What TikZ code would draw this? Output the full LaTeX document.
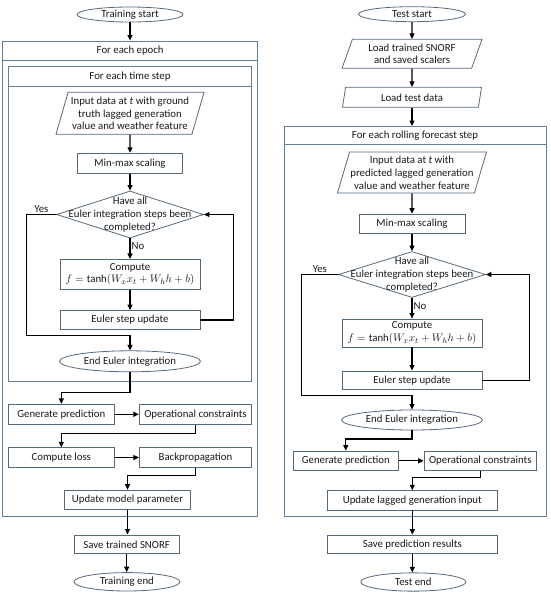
\documentclass[tikz,border=0pt]{standalone}
\usepackage{fontspec}
\setmainfont{Carlito}
\usetikzlibrary{shapes.geometric,arrows.meta,calc}
\definecolor{bcol}{RGB}{85,105,125}
\definecolor{ccol}{RGB}{95,128,150}
\definecolor{tcol}{RGB}{25,25,25}
\begin{document}
\begin{tikzpicture}[x=1pt,y=-1pt,
  every node/.style={font=\fontsize{10.8}{12.8}\selectfont, text=tcol},
  bx/.style={draw=bcol, line width=0.8pt, rectangle, inner sep=0pt, align=center},
  cont/.style={draw=ccol, line width=0.9pt, rectangle, inner sep=0pt, align=center},
  term/.style={draw=bcol, line width=0.8pt, ellipse, inner sep=0pt},
  par/.style={draw=bcol, line width=0.8pt, trapezium, trapezium left angle=70,
    trapezium right angle=110, trapezium stretches body, inner sep=0pt, align=center},
  dia/.style={draw=bcol, line width=0.8pt, diamond, inner sep=0pt},
  arr/.style={-{Triangle[length=5.5pt,width=5pt]}, line width=1.1pt, black},
  lbl/.style={inner sep=1pt}
]
\useasboundingbox (0,0) rectangle (550,595);

% ---------------- Left: training ----------------
\node[term, minimum width=106pt, minimum height=15pt] (ts) at (130,14.5) {Training start};
\node[cont, minimum width=255pt, minimum height=475.5pt, anchor=north] (epb) at (130.2,40.5) {};
\node[cont, minimum width=255pt, minimum height=19.8pt, anchor=north] (eph) at (130.2,40.5) {For each epoch};
\node[cont, minimum width=243.4pt, minimum height=314.7pt, anchor=north] (tsb) at (130,66) {};
\node[cont, minimum width=243.4pt, minimum height=19.7pt, anchor=north] (tsh) at (130,66) {For each time step};

\node[par, minimum width=148pt, minimum height=42pt] (in1) at (130,113.3)
  {Input data at \textit{t} with ground\\truth lagged generation\\value and weather feature};
\node[bx, minimum width=105pt, minimum height=20pt] (mm1) at (130,163.2) {Min-max scaling};
\node[dia, minimum width=147pt, minimum height=47pt] (d1) at (130,214.5) {};
\node[align=center, inner sep=0pt] (d1t) at (d1.center) {Have all\\Euler integration steps been\\completed?};
\node[bx, minimum width=140pt, minimum height=30pt] (c1) at (130,274.3)
  {Compute\\$f=\tanh(W_x x_t+W_h h+b)$};
\node[bx, minimum width=140pt, minimum height=19pt] (e1) at (130,320) {Euler step update};
\node[term, minimum width=141pt, minimum height=21pt] (ee1) at (130,361.3) {End Euler integration};
\node[bx, minimum width=106pt, minimum height=20pt] (g1) at (61.3,414.3) {Generate prediction};
\node[bx, minimum width=112.4pt, minimum height=20pt] (o1) at (195.5,414.3) {Operational constraints};
\node[bx, minimum width=106pt, minimum height=19.6pt] (cl1) at (61.3,457.5) {Compute loss};
\node[bx, minimum width=112.4pt, minimum height=19.6pt] (bp1) at (195.5,457.5) {Backpropagation};
\node[bx, minimum width=126.4pt, minimum height=19.3pt] (up1) at (127.5,499.7) {Update model parameter};
\node[bx, minimum width=105.3pt, minimum height=18.7pt] (sv1) at (126.7,544.3) {Save trained SNORF};
\node[term, minimum width=106pt, minimum height=18.4pt] (te1) at (127,581.8) {Training end};

\coordinate (l1) at (233.3,320);
\coordinate (y1a) at (26.7,214.5);
\coordinate (y1b) at (26.7,335.7);
\coordinate (k1) at (130,392.3);
\coordinate (k2) at (195.5,433.3);
\coordinate (k3) at (195.5,475.7);

\draw[arr] (ts.south) -- (ts.south |- eph.north);
\draw[arr] (in1.south) -- (mm1.north);
\draw[arr] (mm1.south) -- (d1.north);
\draw[arr] (d1.south) -- node[lbl, right, pos=0.35] {No} (c1.north);
\draw[arr] (c1.south) -- (e1.north);
\draw[arr] (e1.east) -- (l1) |- (d1.east);
\draw[arr] (d1.west) -- node[lbl, above] {Yes} (y1a) -- (y1b) -| (ee1.north);
\draw[arr] (ee1.south) -- (k1) -| (g1.north);
\draw[arr] (g1.east) -- (o1.west);
\draw[arr] (o1.south) -- (k2) -| (cl1.north);
\draw[arr] (cl1.east) -- (bp1.west);
\draw[arr] (bp1.south) -- (k3) -| (up1.north);
\draw[arr] (up1.south) -- (up1.south |- sv1.north);
\draw[arr] (sv1.south) -- (sv1.south |- te1.north);

% ---------------- Right: test ----------------
\node[term, minimum width=107pt, minimum height=15pt] (ts2) at (412,14.2) {Test start};
\node[par, trapezium left angle=63, trapezium right angle=117, minimum width=140pt, minimum height=29pt] (ld1) at (412,53.8)
  {Load trained SNORF\\and saved scalers};
\node[par, trapezium left angle=68, trapezium right angle=112, minimum width=139pt, minimum height=20pt] (ld2) at (412,97.3)
  {Load test data};
\node[cont, minimum width=262pt, minimum height=390pt, anchor=north] (rb) at (415,126) {};
\node[cont, minimum width=262pt, minimum height=18pt, anchor=north] (rh) at (415,126) {For each rolling forecast step};

\node[par, minimum width=149pt, minimum height=41pt] (in2) at (412,172.5)
  {Input data at \textit{t} with\\predicted lagged generation\\value and weather feature};
\node[bx, minimum width=106pt, minimum height=19.3pt] (mm2) at (412,223.7) {Min-max scaling};
\node[dia, minimum width=147pt, minimum height=46pt] (d2) at (412,274.5) {};
\node[align=center, inner sep=0pt] (d2t) at (d2.center) {Have all\\Euler integration steps been\\completed?};
\node[bx, minimum width=140pt, minimum height=28pt] (c2) at (412,333)
  {Compute\\$f=\tanh(W_x x_t+W_h h+b)$};
\node[bx, minimum width=140pt, minimum height=18.6pt] (e2) at (412,380.2) {Euler step update};
\node[term, minimum width=141pt, minimum height=20pt] (ee2) at (412,420) {End Euler integration};
\node[bx, minimum width=105pt, minimum height=19.7pt] (g2) at (345.8,460.8) {Generate prediction};
\node[bx, minimum width=112.7pt, minimum height=19.7pt] (o2) at (480.3,460.8) {Operational constraints};
\node[bx, minimum width=170pt, minimum height=19.3pt] (up2) at (412.3,500.3) {Update lagged generation input};
\node[bx, minimum width=170pt, minimum height=18.3pt] (sv2) at (412.3,544.2) {Save prediction results};
\node[term, minimum width=105pt, minimum height=18.3pt] (te2) at (413.3,582) {Test end};

\coordinate (l2) at (529.3,380.2);
\coordinate (y2a) at (301.7,274.5);
\coordinate (y2b) at (301.7,395.7);
\coordinate (k4) at (412,439);
\coordinate (k5) at (480.3,477.3);

\draw[arr] (ts2.south) -- (ld1.north);
\draw[arr] (ld1.south) -- (ld2.north);
\draw[arr] (ld2.south) -- (ld2.south |- rh.north);
\draw[arr] (in2.south) -- (mm2.north);
\draw[arr] (mm2.south) -- (d2.north);
\draw[arr] (d2.south) -- node[lbl, right, pos=0.4] {No} (c2.north);
\draw[arr] (c2.south) -- (e2.north);
\draw[arr] (e2.east) -- (l2) |- (d2.east);
\draw[arr] (d2.west) -- node[lbl, above] {Yes} (y2a) -- (y2b) -| (ee2.north);
\draw[arr] (ee2.south) -- (k4) -| (g2.north);
\draw[arr] (g2.east) -- (o2.west);
\draw[arr] (o2.south) -- (k5) -| (up2.north);
\draw[arr] (up2.south) -- (up2.south |- sv2.north);
\draw[arr] (sv2.south) -- (sv2.south |- te2.north);
\end{tikzpicture}
\end{document}
